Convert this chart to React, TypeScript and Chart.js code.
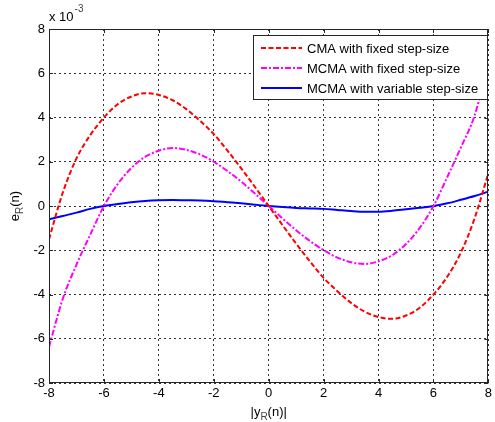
import React, { useEffect, useRef } from "react";
import { Chart, registerables } from "chart.js";

Chart.register(...registerables);

const xValues = [-8, -7.5, -7, -6.5, -6, -5.5, -5, -4.5, -4, -3.5, -3, -2.5, -2, -1.5, -1, -0.5, 0, 0.5, 1, 1.5, 2, 2.5, 3, 3.5, 4, 4.5, 5, 5.5, 6, 6.5, 7, 7.5, 8];
const cmaFixed = [-1.5, 0.6, 2.15, 3.2, 4.0, 4.6, 4.95, 5.1, 5.02, 4.78, 4.38, 3.85, 3.25, 2.5, 1.7, 0.86, 0, -0.86, -1.7, -2.5, -3.25, -3.85, -4.38, -4.78, -5.02, -5.1, -4.95, -4.6, -4.0, -3.2, -2.1, -0.55, 1.49];
const mcmaFixed = [-6.37, -4.2, -2.65, -1.3, 0, 0.99, 1.72, 2.22, 2.5, 2.62, 2.54, 2.33, 2.0, 1.58, 1.1, 0.56, 0, -0.56, -1.1, -1.58, -2.0, -2.33, -2.54, -2.62, -2.5, -2.22, -1.72, -0.99, 0, 1.3, 2.65, 4.1, 6.47];
const mcmaVariable = [-0.6, -0.45, -0.3, -0.13, 0, 0.09, 0.17, 0.23, 0.26, 0.27, 0.26, 0.25, 0.22, 0.17, 0.12, 0.06, 0, -0.05, -0.09, -0.11, -0.13, -0.18, -0.23, -0.26, -0.26, -0.22, -0.15, -0.08, 0, 0.12, 0.28, 0.45, 0.65];
const tickValues = [-8, -6, -4, -2, 0, 2, 4, 6, 8];
const seriesLabels = ["CMA with fixed step-size", "MCMA with fixed step-size", "MCMA with variable step-size"];

const FONT = '"Liberation Sans", Arial, Helvetica, sans-serif';

const toPoints = (ys: number[]) => xValues.map((x, i) => ({ x, y: ys[i] }));

const decorPlugin = {
  id: "decor",
  afterDraw(chart: any) {
    const { ctx, chartArea: a, scales } = chart;
    const xs = scales.x;
    const ys = scales.y;
    ctx.save();
    ctx.strokeStyle = "#262626";
    ctx.lineWidth = 1;
    ctx.setLineDash([]);
    ctx.strokeRect(Math.round(a.left) + 0.5, Math.round(a.top) + 0.5, Math.round(a.right - a.left) - 1, Math.round(a.bottom - a.top) - 1);
    ctx.beginPath();
    tickValues.forEach((v) => {
      const px = Math.round(xs.getPixelForValue(v)) + 0.5;
      ctx.moveTo(px, a.bottom);
      ctx.lineTo(px, a.bottom - 4);
      ctx.moveTo(px, a.top);
      ctx.lineTo(px, a.top + 4);
      const py = Math.round(ys.getPixelForValue(v)) + 0.5;
      ctx.moveTo(a.left, py);
      ctx.lineTo(a.left + 4, py);
      ctx.moveTo(a.right, py);
      ctx.lineTo(a.right - 4, py);
    });
    ctx.stroke();

    ctx.fillStyle = "#000";
    ctx.textBaseline = "alphabetic";
    ctx.textAlign = "left";
    ctx.font = `13px ${FONT}`;
    ctx.fillText("x 10", 49, 21);
    const w = ctx.measureText("x 10").width;
    ctx.font = `10px ${FONT}`;
    ctx.fillStyle = "#444";
    ctx.fillText("-3", 49 + w + 1, 12);

    const cx = (a.left + a.right) / 2;
    const p1 = "|y";
    const p2 = "R";
    const p3 = "(n)|";
    ctx.font = `13px ${FONT}`;
    const w1 = ctx.measureText(p1).width;
    const w3 = ctx.measureText(p3).width;
    ctx.font = `10px ${FONT}`;
    const w2 = ctx.measureText(p2).width;
    let sx = cx - (w1 + w2 + w3) / 2;
    const by = 416;
    ctx.fillStyle = "#000";
    ctx.font = `13px ${FONT}`;
    ctx.fillText(p1, sx, by);
    sx += w1;
    ctx.font = `10px ${FONT}`;
    ctx.fillStyle = "#444";
    ctx.fillText(p2, sx, by + 4);
    sx += w2;
    ctx.font = `13px ${FONT}`;
    ctx.fillStyle = "#000";
    ctx.fillText(p3, sx, by);

    ctx.save();
    ctx.translate(19, (a.top + a.bottom) / 2);
    ctx.rotate(-Math.PI / 2);
    const q1 = "e";
    const q2 = "R";
    const q3 = "(n)";
    ctx.font = `13px ${FONT}`;
    const v1 = ctx.measureText(q1).width;
    const v3 = ctx.measureText(q3).width;
    ctx.font = `10px ${FONT}`;
    const v2 = ctx.measureText(q2).width;
    let tx = -(v1 + v2 + v3) / 2;
    ctx.font = `13px ${FONT}`;
    ctx.fillStyle = "#000";
    ctx.fillText(q1, tx, 0);
    tx += v1;
    ctx.font = `10px ${FONT}`;
    ctx.fillStyle = "#444";
    ctx.fillText(q2, tx, 4);
    tx += v2;
    ctx.font = `13px ${FONT}`;
    ctx.fillStyle = "#000";
    ctx.fillText(q3, tx, 0);
    ctx.restore();

    const lx = 253, ly = 35, lw = 234, lh = 64;
    ctx.fillStyle = "#fff";
    ctx.fillRect(lx, ly, lw, lh);
    ctx.strokeStyle = "#262626";
    ctx.lineWidth = 1;
    ctx.strokeRect(lx + 0.5, ly + 0.5, lw, lh);
    chart.data.datasets.forEach((ds: any, i: number) => {
      const yy = 48 + i * 20;
      ctx.beginPath();
      ctx.strokeStyle = ds.borderColor;
      ctx.lineWidth = 2;
      ctx.setLineDash(ds.borderDash || []);
      ctx.moveTo(261, yy);
      ctx.lineTo(302, yy);
      ctx.stroke();
      ctx.setLineDash([]);
      ctx.fillStyle = "#000";
      ctx.font = `13px ${FONT}`;
      ctx.textBaseline = "middle";
      ctx.fillText(ds.label, 307, yy + 1);
    });
    ctx.restore();
  },
};

export default function App() {
  const ref = useRef<HTMLCanvasElement | null>(null);
  useEffect(() => {
    if (!ref.current) return;
    const common = { borderWidth: 2, pointRadius: 0, cubicInterpolationMode: "monotone" as const, fill: false };
    const chart = new Chart(ref.current, {
      type: "line",
      data: {
        datasets: [
          { ...common, label: seriesLabels[0], data: toPoints(cmaFixed), borderColor: "#ff0000", borderDash: [5, 2.5] },
          { ...common, label: seriesLabels[1], data: toPoints(mcmaFixed), borderColor: "#ff00ff", borderDash: [6, 2, 2, 2] },
          { ...common, label: seriesLabels[2], data: toPoints(mcmaVariable), borderColor: "#0000ff" },
        ],
      },
      options: {
        animation: false,
        responsive: true,
        maintainAspectRatio: false,
        layout: { padding: { left: 0, right: 4, top: 29, bottom: 0 } },
        plugins: { legend: { display: false }, tooltip: { enabled: false } },
        scales: {
          x: {
            type: "linear",
            min: -8,
            max: 8,
            afterFit: (s: any) => { s.height = 39; },
            afterBuildTicks: (s: any) => { s.ticks = tickValues.map((v) => ({ value: v })); },
            ticks: { color: "#000", font: { family: FONT, size: 13 }, padding: 3, maxRotation: 0 },
            grid: { color: "#333", lineWidth: 1, drawTicks: false },
            border: { display: false, dash: [2, 3] },
          },
          y: {
            type: "linear",
            min: -8,
            max: 8,
            afterFit: (s: any) => { s.width = 49; },
            afterBuildTicks: (s: any) => { s.ticks = tickValues.map((v) => ({ value: v })); },
            ticks: { color: "#000", font: { family: FONT, size: 13 }, padding: 4 },
            grid: { color: "#333", lineWidth: 1, drawTicks: false },
            border: { display: false, dash: [2, 3] },
          },
        },
      },
      plugins: [decorPlugin],
    });
    return () => chart.destroy();
  }, []);
  return (
    <div style={{ position: "absolute", left: 0, top: 0, width: 495, height: 422, background: "#fff" }}>
      <canvas ref={ref} />
    </div>
  );
}
